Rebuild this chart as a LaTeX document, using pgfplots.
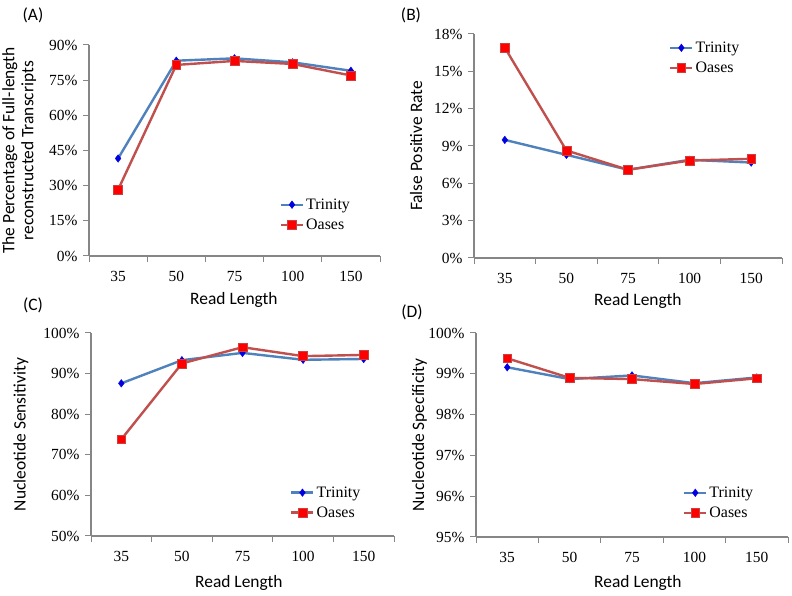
\documentclass[border=0pt]{standalone}
\usepackage{pgfplots}
\pgfplotsset{compat=1.18}
\usepackage{fontspec}
\setmainfont{Liberation Serif}
\newfontfamily\calfont{Carlito}
\definecolor{axgray}{HTML}{868686}
\definecolor{trline}{HTML}{4F81BD}
\definecolor{trmark}{HTML}{0000E0}
\definecolor{oaline}{HTML}{C0504D}
\definecolor{oamark}{HTML}{FF0000}
\pgfplotsset{
  panel/.style={
    scale only axis, anchor=south west,
    axis x line*=bottom, axis y line*=left,
    axis line style={draw=axgray, line width=1.2bp},
    every tick/.style={draw=axgray, line width=1bp},
    xmin=-0.5, xmax=4.5,
    xtick={0,...,4}, xticklabels={35,50,75,100,150},
    major x tick style={draw=none},
    minor xtick={-0.5,0.5,...,4.5},
    tick align=outside,
    major tick length=6bp, minor tick length=6bp,
    /pgf/number format/assume math mode=true,
    tick label style={font=\fontsize{15.5}{17}\selectfont},
    yticklabel={\pgfmathprintnumber{\tick}\%},
    yticklabel style={xshift=-2bp},
    xticklabel style={yshift=-6bp},
    label style={font=\calfont\fontsize{17.5}{19}\selectfont},
    legend style={draw=none, fill=none, font=\fontsize{16}{18}\selectfont,
      row sep=4bp, inner sep=0pt, cells={anchor=west}},
    legend cell align=left,
    legend image code/.code={
      \draw[##1, mark repeat=2, mark phase=2] plot coordinates {(0bp,0bp) (11bp,0bp) (22bp,0bp)};},
  },
  tri/.style={color=trline, line width=2.4bp, mark=diamond*, mark size=3.8bp,
    mark options={fill=trmark, draw=trmark, line width=0.4bp}},
  oas/.style={color=oaline, line width=2.4bp, mark=square*, mark size=4.4bp,
    mark options={fill=oamark, draw=oaline!80!oamark, line width=0.6bp}},
}
\begin{document}
\begin{tikzpicture}[x=1bp,y=1bp]
\path[use as bounding box] (0,0) rectangle (792,596);
% (A)
\begin{axis}[panel, at={(89bp,340bp)}, width=291bp, height=211bp,
  ymin=0, ymax=90, ytick={0,15,...,90},
  ylabel={The Percentage of Full-length\\reconstructed Transcripts},
  ylabel style={align=center, at={(axis description cs:-0.24,0.5)}, anchor=center},
  xlabel={Read Length},
  xlabel style={at={(axis description cs:0.498,-0.21)}, anchor=center},
  legend style={at={(axis description cs:0.655,0.282)}, anchor=north west}]
\addplot[tri] coordinates {(0,41.6) (1,83.3) (2,84.3) (3,82.6) (4,79.0)};
\addplot[oas] coordinates {(0,28.3) (1,81.5) (2,83.2) (3,81.9) (4,77.0)};
\legend{Trinity,Oases}
\end{axis}
% (B)
\begin{axis}[panel, at={(474bp,338bp)}, width=308bp, height=224bp,
  ymin=0, ymax=18, ytick={0,3,...,18},
  ylabel={False Positive Rate},
  ylabel style={at={(axis description cs:-0.188,0.5)}, anchor=center},
  xlabel={Read Length},
  xlabel style={at={(axis description cs:0.532,-0.19)}, anchor=center},
  legend style={at={(axis description cs:0.633,0.975)}, anchor=north west}]
\addplot[tri] coordinates {(0,9.49) (1,8.29) (2,7.09) (3,7.89) (4,7.67)};
\addplot[oas] coordinates {(0,16.9) (1,8.64) (2,7.09) (3,7.83) (4,7.97)};
\legend{Trinity,Oases}
\end{axis}
% (C)
\begin{axis}[panel, at={(91bp,60bp)}, width=303bp, height=203bp,
  ymin=50, ymax=100, ytick={50,60,...,100},
  ylabel={Nucleotide Sensitivity},
  ylabel style={at={(axis description cs:-0.231,0.5)}, anchor=center},
  xlabel={Read Length},
  xlabel style={at={(axis description cs:0.488,-0.23)}, anchor=center},
  legend style={at={(axis description cs:0.657,0.254)}, anchor=north west}]
\addplot[tri] coordinates {(0,87.6) (1,93.3) (2,95.1) (3,93.4) (4,93.6)};
\addplot[oas] coordinates {(0,73.8) (1,92.5) (2,96.5) (3,94.3) (4,94.6)};
\legend{Trinity,Oases}
\end{axis}
% (D)
\begin{axis}[panel, at={(476bp,59bp)}, width=312bp, height=204bp,
  ymin=95, ymax=100, ytick={95,96,...,100},
  ylabel={Nucleotide Specificity},
  ylabel style={at={(axis description cs:-0.181,0.5)}, anchor=center},
  xlabel={Read Length},
  xlabel style={at={(axis description cs:0.519,-0.225)}, anchor=center},
  legend style={at={(axis description cs:0.663,0.257)}, anchor=north west}]
\addplot[tri] coordinates {(0,99.16) (1,98.87) (2,98.96) (3,98.77) (4,98.91)};
\addplot[oas] coordinates {(0,99.38) (1,98.90) (2,98.87) (3,98.75) (4,98.89)};
\legend{Trinity,Oases}
\end{axis}
\node[font=\calfont\fontsize{17.5}{19}\selectfont] at (33,581) {(A)};
\node[font=\calfont\fontsize{17.5}{19}\selectfont] at (411,581) {(B)};
\node[font=\calfont\fontsize{17.5}{19}\selectfont] at (33,291) {(C)};
\node[font=\calfont\fontsize{17.5}{19}\selectfont] at (412,284) {(D)};
\end{tikzpicture}
\end{document}
